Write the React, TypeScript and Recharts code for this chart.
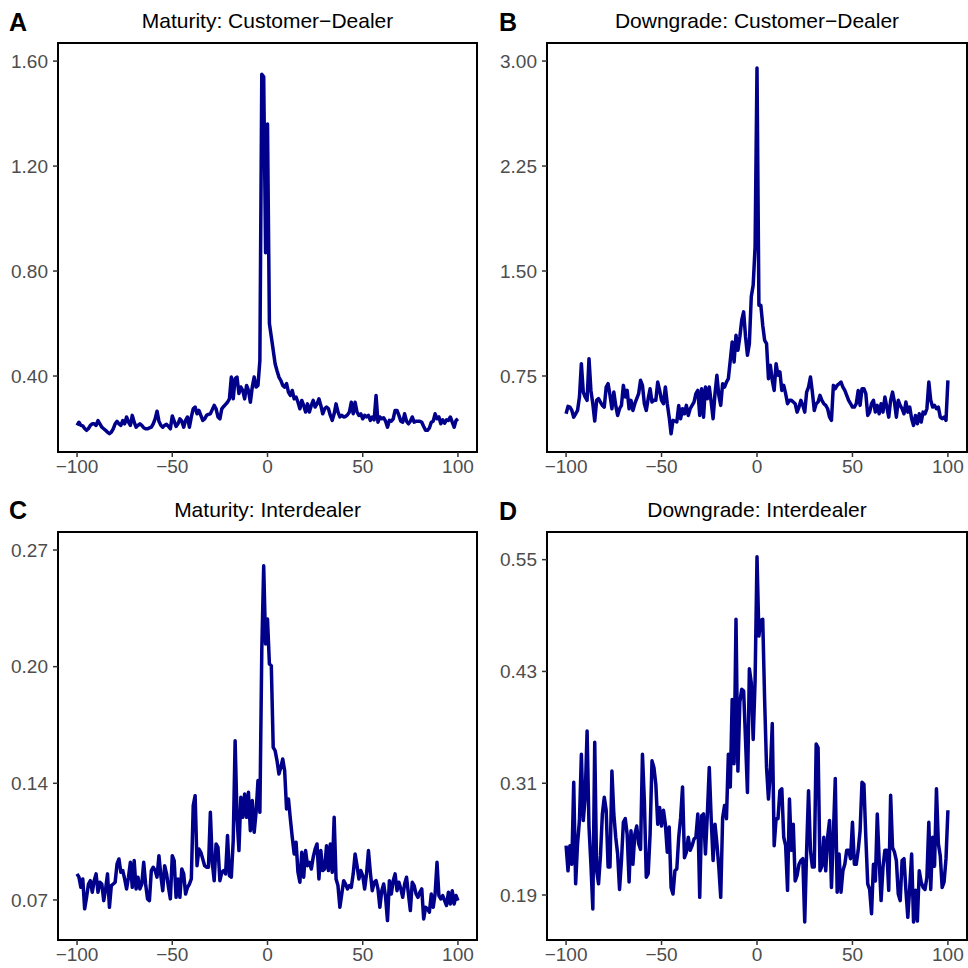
import React from 'react';
import { LineChart, Line, XAxis, YAxis, ReferenceArea } from 'recharts';

const days: number[] = Array.from({ length: 201 }, (_, i) => i - 100);

const xTicks = [-100, -50, 0, 50, 100];

const maturityCD = [
  0.212, 0.224, 0.212, 0.210, 0.200, 0.193, 0.200, 0.212, 0.218, 0.218,
  0.212, 0.230, 0.218, 0.205, 0.199, 0.193, 0.186, 0.180, 0.186, 0.199,
  0.218, 0.227, 0.218, 0.212, 0.230, 0.218, 0.244, 0.224, 0.212, 0.250,
  0.224, 0.205, 0.212, 0.218, 0.212, 0.203, 0.199, 0.199, 0.202, 0.205,
  0.218, 0.237, 0.266, 0.228, 0.212, 0.205, 0.212, 0.216, 0.208, 0.199,
  0.248, 0.228, 0.208, 0.218, 0.237, 0.228, 0.205, 0.231, 0.244, 0.205,
  0.244, 0.275, 0.282, 0.256, 0.269, 0.250, 0.231, 0.237, 0.250, 0.254,
  0.256, 0.272, 0.288, 0.275, 0.244, 0.237, 0.275, 0.284, 0.292, 0.300,
  0.313, 0.396, 0.313, 0.390, 0.396, 0.333, 0.358, 0.345, 0.313, 0.364,
  0.345, 0.300, 0.358, 0.396, 0.358, 0.364, 0.460, 1.550, 1.540, 0.870,
  1.360,
  0.600, 0.550, 0.498, 0.447, 0.420, 0.396, 0.383, 0.364, 0.358, 0.371,
  0.339, 0.326, 0.345, 0.313, 0.320, 0.300, 0.275, 0.307, 0.288, 0.263,
  0.294, 0.263, 0.288, 0.307, 0.282, 0.294, 0.313, 0.288, 0.256, 0.275,
  0.282, 0.275, 0.250, 0.231, 0.256, 0.294, 0.263, 0.244, 0.250, 0.244,
  0.246, 0.252, 0.263, 0.300, 0.256, 0.300, 0.263, 0.250, 0.256, 0.237,
  0.250, 0.244, 0.250, 0.231, 0.244, 0.233, 0.326, 0.224, 0.244, 0.237,
  0.241, 0.228, 0.205, 0.231, 0.228, 0.237, 0.269, 0.269, 0.250, 0.228,
  0.224, 0.256, 0.228, 0.218, 0.228, 0.244, 0.224, 0.228, 0.228, 0.228,
  0.224, 0.208, 0.193, 0.193, 0.202, 0.224, 0.228, 0.256, 0.237, 0.244,
  0.218, 0.233, 0.220, 0.233, 0.231, 0.244, 0.224, 0.205, 0.231, 0.237,
];

const downgradeCD = [
  0.480, 0.533, 0.528, 0.504, 0.456, 0.480, 0.504, 0.600, 0.838, 0.635,
  0.600, 0.576, 0.874, 0.647, 0.552, 0.428, 0.576, 0.588, 0.564, 0.540,
  0.528, 0.671, 0.695, 0.612, 0.516, 0.635, 0.540, 0.468, 0.516, 0.540,
  0.683, 0.600, 0.647, 0.516, 0.576, 0.504, 0.552, 0.588, 0.624, 0.719,
  0.683, 0.552, 0.504, 0.588, 0.659, 0.564, 0.576, 0.576, 0.707, 0.647,
  0.576, 0.552, 0.671, 0.552, 0.456, 0.337, 0.433, 0.428, 0.421, 0.540,
  0.445, 0.516, 0.480, 0.540, 0.468, 0.516, 0.540, 0.564, 0.624, 0.647,
  0.468, 0.659, 0.456, 0.671, 0.588, 0.671, 0.564, 0.445, 0.624, 0.755,
  0.612, 0.540, 0.695, 0.671, 0.707, 0.731, 0.862, 0.993, 0.850, 1.041,
  0.934, 1.029, 1.149, 1.208, 1.029, 0.898, 0.981, 1.316, 1.399, 1.674,
  2.950,
  1.256, 1.256, 1.113, 1.005, 0.981, 0.731, 0.826, 0.719, 0.647, 0.838,
  0.755, 0.779, 0.647, 0.683, 0.624, 0.552, 0.576, 0.576, 0.564, 0.552,
  0.492, 0.528, 0.576, 0.540, 0.492, 0.635, 0.671, 0.743, 0.635, 0.504,
  0.552, 0.564, 0.612, 0.576, 0.552, 0.540, 0.516, 0.456, 0.433, 0.683,
  0.659, 0.683, 0.695, 0.707, 0.671, 0.647, 0.612, 0.576, 0.552, 0.528,
  0.528, 0.552, 0.647, 0.540, 0.659, 0.659, 0.624, 0.468, 0.492, 0.552,
  0.576, 0.492, 0.540, 0.480, 0.552, 0.492, 0.600, 0.528, 0.456, 0.576,
  0.635, 0.564, 0.456, 0.576, 0.540, 0.516, 0.480, 0.564, 0.492, 0.528,
  0.445, 0.397, 0.468, 0.409, 0.480, 0.421, 0.492, 0.480, 0.516, 0.707,
  0.576, 0.528, 0.540, 0.516, 0.528, 0.456, 0.445, 0.456, 0.433, 0.719,
];

const maturityID = [
  0.0849, 0.0830, 0.0772, 0.0820, 0.0649, 0.0715, 0.0791, 0.0810, 0.0744, 0.0810,
  0.0849, 0.0744, 0.0801, 0.0791, 0.0696, 0.0763, 0.0849, 0.0658, 0.0782, 0.0791,
  0.0801, 0.0906, 0.0934, 0.0858, 0.0868, 0.0820, 0.0763, 0.0830, 0.0915, 0.0772,
  0.0925, 0.0763, 0.0830, 0.0763, 0.0791, 0.0915, 0.0791, 0.0706, 0.0696, 0.0868,
  0.0887, 0.0868, 0.0830, 0.0953, 0.0839, 0.0753, 0.0896, 0.0849, 0.0772, 0.0706,
  0.0953, 0.0925, 0.0715, 0.0820, 0.0715, 0.0877, 0.0849, 0.0734, 0.0772, 0.0791,
  0.0820, 0.1239, 0.1296, 0.0896, 0.0991, 0.0972, 0.0934, 0.0896, 0.0887, 0.0887,
  0.1201, 0.0915, 0.0810, 0.1020, 0.1001, 0.0810, 0.0858, 0.0868, 0.0849, 0.1068,
  0.0839, 0.0830, 0.1039, 0.1610, 0.1172, 0.0982, 0.1287, 0.1172, 0.1306, 0.1172,
  0.1315, 0.1096, 0.1268, 0.1087, 0.1201, 0.1382, 0.1201, 0.2125, 0.2610, 0.2163,
  0.2306,
  0.2049, 0.2039, 0.1572, 0.1553, 0.1496, 0.1420, 0.1458, 0.1506, 0.1439, 0.1220,
  0.1277, 0.1163, 0.1058, 0.0963, 0.1030, 0.0858, 0.0801, 0.0972, 0.0830, 0.0982,
  0.0896, 0.0915, 0.0877, 0.0944, 0.0991, 0.1020, 0.0820, 0.0982, 0.0868, 0.0877,
  0.1010, 0.0868, 0.1020, 0.0858, 0.1172, 0.0820, 0.0782, 0.0658, 0.0734, 0.0810,
  0.0791, 0.0763, 0.0782, 0.0772, 0.0849, 0.0963, 0.0896, 0.0820, 0.0868, 0.0839,
  0.0763, 0.0849, 0.0982, 0.0858, 0.0753, 0.0801, 0.0810, 0.0763, 0.0658, 0.0753,
  0.0791, 0.0715, 0.0582, 0.0810, 0.0734, 0.0810, 0.0849, 0.0753, 0.0801, 0.0763,
  0.0715, 0.0791, 0.0830, 0.0734, 0.0639, 0.0801, 0.0782, 0.0734, 0.0715, 0.0744,
  0.0763, 0.0591, 0.0658, 0.0649, 0.0630, 0.0734, 0.0658, 0.0734, 0.0915, 0.0725,
  0.0706, 0.0725, 0.0696, 0.0668, 0.0744, 0.0677, 0.0753, 0.0677, 0.0725, 0.0696,
];

const downgradeID = [
  0.243, 0.216, 0.243, 0.223, 0.311, 0.202, 0.245, 0.270, 0.341, 0.270,
  0.295, 0.366, 0.263, 0.223, 0.175, 0.354, 0.216, 0.202, 0.232, 0.277,
  0.295, 0.281, 0.220, 0.220, 0.323, 0.277, 0.252, 0.234, 0.196, 0.227,
  0.268, 0.272, 0.255, 0.204, 0.259, 0.223, 0.255, 0.264, 0.245, 0.239,
  0.341, 0.291, 0.209, 0.213, 0.255, 0.334, 0.327, 0.309, 0.266, 0.284,
  0.264, 0.281, 0.266, 0.236, 0.263, 0.198, 0.191, 0.216, 0.218, 0.252,
  0.273, 0.306, 0.230, 0.236, 0.252, 0.238, 0.243, 0.250, 0.252, 0.277,
  0.1875, 0.275, 0.277, 0.234, 0.277, 0.327, 0.272, 0.227, 0.266, 0.245,
  0.220, 0.1875, 0.273, 0.286, 0.272, 0.341, 0.306, 0.400, 0.331, 0.486,
  0.323, 0.397, 0.411, 0.409, 0.356, 0.300, 0.433, 0.418, 0.357, 0.420,
  0.553,
  0.468, 0.485, 0.486, 0.399, 0.327, 0.293, 0.323, 0.374, 0.243, 0.272,
  0.272, 0.302, 0.304, 0.252, 0.243, 0.195, 0.293, 0.238, 0.266, 0.205,
  0.211, 0.223, 0.227, 0.229, 0.161, 0.238, 0.302, 0.238, 0.220, 0.220,
  0.352, 0.348, 0.216, 0.221, 0.252, 0.216, 0.252, 0.270, 0.198, 0.255,
  0.315, 0.193, 0.234, 0.193, 0.216, 0.223, 0.238, 0.238, 0.229, 0.268,
  0.223, 0.223, 0.238, 0.259, 0.311, 0.309, 0.252, 0.202, 0.196, 0.170,
  0.223, 0.205, 0.277, 0.227, 0.184, 0.220, 0.238, 0.238, 0.195, 0.297,
  0.241, 0.236, 0.227, 0.191, 0.184, 0.227, 0.229, 0.195, 0.166, 0.198,
  0.234, 0.161, 0.195, 0.162, 0.216, 0.204, 0.198, 0.196, 0.209, 0.268,
  0.196, 0.252, 0.221, 0.304, 0.245, 0.232, 0.198, 0.204, 0.229, 0.281,
];

const ticksA = [0.4, 0.8, 1.2, 1.6];
const ticksB = [0.75, 1.5, 2.25, 3.0];
const ticksC = [0.07, 0.136667, 0.203333, 0.27];
const ticksD = [0.19, 0.31, 0.43, 0.55];

const FONT = '"Liberation Sans", Arial, Helvetica, sans-serif';

const fmtX = (v: number) => String(v).replace('-', '\u2212');
const fmtY = (v: number) => v.toFixed(2);

type PanelProps = {
  left: number;
  top: number;
  values: number[];
  yDomain: [number, number];
  yTicks: number[];
  margin: { top: number; right: number; bottom: number; left: number };
  yWidth: number;
  xHeight: number;
};

function Panel({ left, top, values, yDomain, yTicks, margin, yWidth, xHeight }: PanelProps) {
  const data = days.map((d, i) => ({ x: d, y: values[i] }));
  return (
    <div style={{ position: 'absolute', left, top }}>
      <LineChart width={484} height={484} data={data} margin={margin}>
        <XAxis
          dataKey="x"
          type="number"
          domain={[-110, 110]}
          ticks={xTicks}
          allowDataOverflow
          interval={0}
          axisLine={false}
          tickLine={{ stroke: '#333333', strokeWidth: 1.5 }}
          tickSize={5}
          tickMargin={3}
          height={xHeight}
          tick={{ fill: '#4D4D4D', fontSize: 19, fontFamily: FONT }}
          tickFormatter={fmtX}
        />
        <YAxis
          type="number"
          domain={yDomain}
          ticks={yTicks}
          allowDataOverflow
          interval={0}
          axisLine={false}
          tickLine={{ stroke: '#333333', strokeWidth: 1.5 }}
          tickSize={5}
          tickMargin={5}
          width={yWidth}
          tick={{ fill: '#4D4D4D', fontSize: 19, fontFamily: FONT }}
          tickFormatter={fmtY}
        />
        <ReferenceArea
          x1={-110}
          x2={110}
          y1={yDomain[0]}
          y2={yDomain[1]}
          fill="none"
          fillOpacity={0}
          stroke="#000000"
          strokeWidth={2}
          ifOverflow="visible"
        />
        <Line
          dataKey="y"
          type="linear"
          stroke="#00008B"
          strokeWidth={3.5}
          dot={false}
          activeDot={false}
          strokeLinejoin="round"
          isAnimationActive={false}
        />
      </LineChart>
    </div>
  );
}

export default function App() {
  return (
    <div style={{ position: 'absolute', left: 0, top: 0, width: 968, height: 968, background: '#fff', fontFamily: FONT }}>
      <Panel left={0} top={0} values={maturityCD} yDomain={[0.1105, 1.669]} yTicks={ticksA}
        margin={{ top: 43, right: 7, bottom: 2, left: 0 }} yWidth={58} xHeight={30} />
      <Panel left={484} top={0} values={downgradeCD} yDomain={[0.207, 3.129]} yTicks={ticksB}
        margin={{ top: 43, right: 1, bottom: 2, left: 0 }} yWidth={63} xHeight={30} />
      <Panel left={0} top={484} values={maturityID} yDomain={[0.0471, 0.2803]} yTicks={ticksC}
        margin={{ top: 48, right: 7, bottom: 0, left: 0 }} yWidth={58} xHeight={28} />
      <Panel left={484} top={484} values={downgradeID} yDomain={[0.1417, 0.5797]} yTicks={ticksD}
        margin={{ top: 48, right: 1, bottom: 0, left: 0 }} yWidth={63} xHeight={28} />
      <svg width={968} height={968} style={{ position: 'absolute', left: 0, top: 0, pointerEvents: 'none' }}>
        <g fontFamily={FONT}>
          <text x={9} y={31} fontSize={25} fontWeight="bold" fill="#000">A</text>
          <text x={499} y={31} fontSize={25} fontWeight="bold" fill="#000">B</text>
          <text x={9} y={519} fontSize={25} fontWeight="bold" fill="#000">C</text>
          <text x={499} y={520} fontSize={25} fontWeight="bold" fill="#000">D</text>
          <text x={267.5} y={28} fontSize={21} textAnchor="middle" fill="#000">Maturity: Customer{'\u2212'}Dealer</text>
          <text x={757} y={28} fontSize={21} textAnchor="middle" fill="#000">Downgrade: Customer{'\u2212'}Dealer</text>
          <text x={267.5} y={517} fontSize={21} textAnchor="middle" fill="#000">Maturity: Interdealer</text>
          <text x={757} y={517} fontSize={21} textAnchor="middle" fill="#000">Downgrade: Interdealer</text>
        </g>
      </svg>
    </div>
  );
}
